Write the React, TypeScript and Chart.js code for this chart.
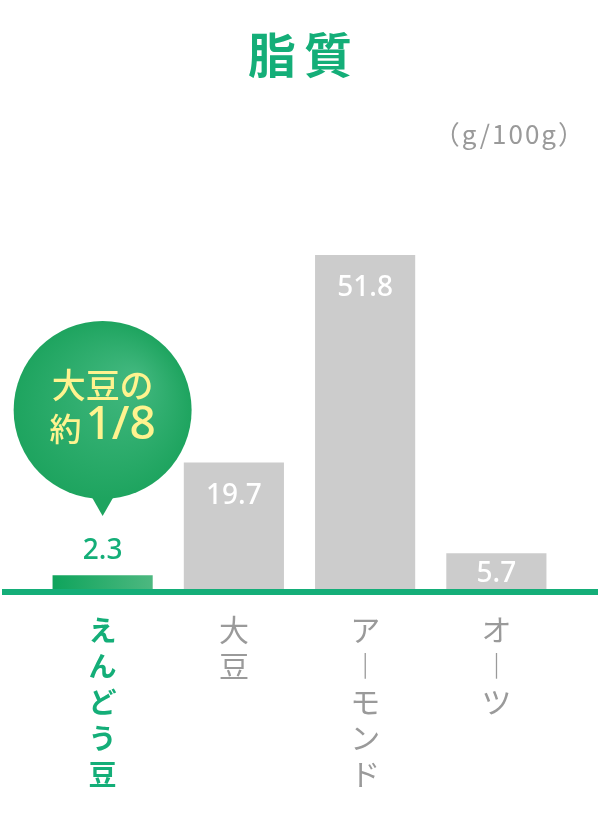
import { useEffect, useRef } from 'react';
import { Chart, registerables } from 'chart.js';

Chart.register(...registerables);

const title = '脂質';
const unit = '（g/100g）';
const categories = ['えんどう豆', '大豆', 'アーモンド', 'オーツ'];
const values = [2.3, 19.7, 51.8, 5.7];
const bubbleLines = ['大豆の', '約', '1/8'];

const GREEN = '#14ae78';
const GRAY_BAR = '#cccccc';
const GRAY_TEXT = '#9a9a9a';
const JP = '"Noto Sans CJK JP", "Noto Sans", sans-serif';

// vertical labels: one char per line, long vowel mark turned upright
const labels = categories.map(c => [...c].map(ch => (ch === 'ー' ? '︱' : ch)));

const overlay = {
    id: 'overlay',
    afterDatasetsDraw(chart: any) {
        const { ctx, chartArea } = chart;
        const meta = chart.getDatasetMeta(0);
        ctx.save();

        // title + unit
        ctx.textAlign = 'center';
        ctx.textBaseline = 'middle';
        ctx.fillStyle = GREEN;
        ctx.font = `bold 48px ${JP}`;
        ctx.letterSpacing = '8px';
        ctx.fillText(title, 304, 55);
        ctx.letterSpacing = '2px';
        ctx.textAlign = 'right';
        ctx.fillStyle = GRAY_TEXT;
        ctx.font = `26px ${JP}`;
        ctx.fillText(unit, 586, 134);
        ctx.letterSpacing = '0px';

        // axis line
        ctx.fillStyle = GREEN;
        ctx.fillRect(2, chartArea.bottom - 1, 596, 6);

        // value labels
        ctx.textAlign = 'center';
        ctx.font = `500 28px "Noto Sans", sans-serif`;
        meta.data.forEach((bar: any, i: number) => {
            if (i === 0) {
                ctx.fillStyle = GREEN;
                ctx.fillText(String(values[i]), bar.x, bar.y - 24);
            } else {
                ctx.fillStyle = '#ffffff';
                const y = Math.min(bar.y + 33, chartArea.bottom - 16);
                ctx.fillText(String(values[i]), bar.x, y);
            }
        });

        // speech bubble above the first bar
        const b0 = meta.data[0];
        const cx = b0.x;
        const cy = 410;
        const r = 89;
        const grad = ctx.createRadialGradient(cx + 30, cy - 30, 10, cx, cy, r);
        grad.addColorStop(0, '#3fb67c');
        grad.addColorStop(1, '#1ea45f');
        ctx.fillStyle = grad;
        ctx.beginPath();
        ctx.arc(cx, cy, r, 0, Math.PI * 2);
        ctx.fill();
        ctx.beginPath();
        ctx.moveTo(cx - 12, cy + r - 4);
        ctx.lineTo(cx + 12, cy + r - 4);
        ctx.lineTo(cx, cy + r + 17);
        ctx.closePath();
        ctx.fill();

        ctx.fillStyle = '#fff38f';
        ctx.textAlign = 'center';
        ctx.font = `500 34px ${JP}`;
        ctx.fillText(bubbleLines[0], cx, cy - 25);
        ctx.textAlign = 'left';
        ctx.font = `500 32px ${JP}`;
        const w1 = ctx.measureText(bubbleLines[1]).width;
        ctx.font = `500 46px "Noto Sans", sans-serif`;
        const w2 = ctx.measureText(bubbleLines[2]).width;
        const x0 = cx - (w1 + 4 + w2) / 2;
        ctx.font = `500 32px ${JP}`;
        ctx.fillText(bubbleLines[1], x0, cy + 19);
        ctx.font = `500 46px "Noto Sans", sans-serif`;
        ctx.fillText(bubbleLines[2], x0 + w1 + 4, cy + 16);

        ctx.restore();
    }
};

const App = () => {
    const canvas = useRef<HTMLCanvasElement>(null);

    useEffect(() => {
        document.body.style.margin = '0';

        const chart = new Chart(
            // @ts-expect-error next
            canvas.current,
            {
                type: 'bar',
                data: {
                    labels,
                    datasets: [
                        {
                            data: values,
                            backgroundColor: (c: any) => {
                                if (c.dataIndex !== 0) return GRAY_BAR;
                                const area = c.chart.chartArea;
                                if (!area) return GREEN;
                                const g = c.chart.ctx.createLinearGradient(53, 0, 153, 0);
                                g.addColorStop(0, '#0fa45c');
                                g.addColorStop(1, '#4db880');
                                return g;
                            },
                            borderWidth: 0,
                            barPercentage: 0.763,
                            categoryPercentage: 1
                        }
                    ]
                },
                plugins: [overlay],
                options: {
                    responsive: false,
                    animation: false,
                    layout: {
                        padding: { top: 202, left: 37, right: 38, bottom: 0 }
                    },
                    plugins: {
                        legend: { display: false },
                        tooltip: { enabled: false },
                        title: { display: false }
                    },
                    scales: {
                        x: {
                            grid: { display: false, drawTicks: false },
                            border: { display: false },
                            afterFit: (scale: any) => {
                                scale.height = 227;
                            },
                            ticks: {
                                padding: 22,
                                maxRotation: 0,
                                autoSkip: false,
                                color: (c: any) => (c.index === 0 ? GREEN : GRAY_TEXT),
                                font: (c: any) => ({
                                    family: JP,
                                    size: c.index === 0 ? 28 : 30,
                                    weight: c.index === 0 ? 'bold' : 'normal',
                                    lineHeight: '36px'
                                })
                            }
                        },
                        y: {
                            display: false,
                            min: 0,
                            max: 60
                        }
                    }
                }
            } as any
        );

        return () => {
            chart.destroy();
        };
    }, []);

    return (
        <canvas
            ref={canvas}
            width={600}
            height={817}
            style={{ display: 'block' }}
            aria-label={title}
            role="img"
        ></canvas>
    );
};

export default App;
